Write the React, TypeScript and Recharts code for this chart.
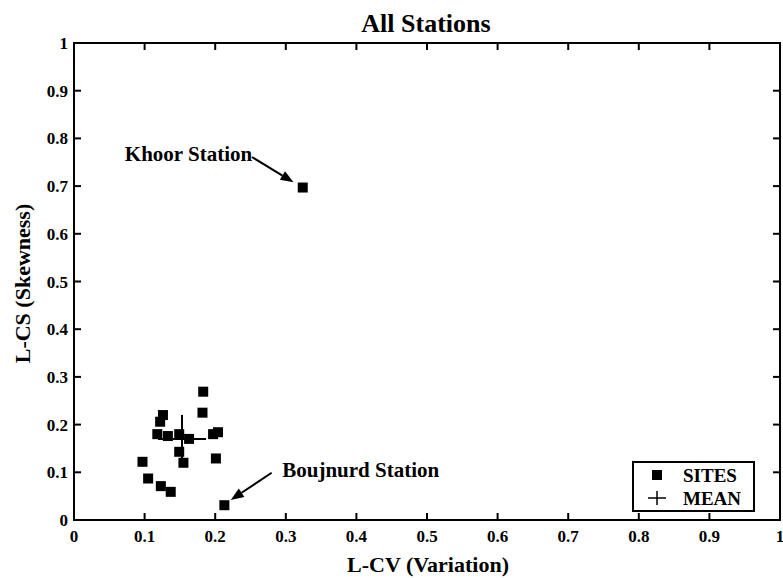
import React from 'react'
import { ScatterChart, Scatter, XAxis, YAxis, Legend } from 'recharts'

const FONT = '"Liberation Serif", "Times New Roman", serif'

// axis ticks (both axes use the same 0..1 scale)
const TICKS = [0, 0.1, 0.2, 0.3, 0.4, 0.5, 0.6, 0.7, 0.8, 0.9, 1]
const TICK_LABELS = ['0', '0.1', '0.2', '0.3', '0.4', '0.5', '0.6', '0.7', '0.8', '0.9', '1']

// station L-moment ratios
const SITE_LCV = [0.183, 0.182, 0.126, 0.122, 0.118, 0.133, 0.149, 0.163, 0.197, 0.204, 0.149, 0.155, 0.201, 0.097, 0.105, 0.123, 0.137, 0.213, 0.324]
const SITE_LCS = [0.269, 0.225, 0.220, 0.206, 0.180, 0.176, 0.180, 0.170, 0.180, 0.184, 0.143, 0.120, 0.129, 0.122, 0.087, 0.071, 0.059, 0.031, 0.697]

// regional mean
const MEAN_LCV = [0.153]
const MEAN_LCS = [0.170]

const sites = SITE_LCV.map((x, i) => ({ x, y: SITE_LCS[i] }))
const mean = MEAN_LCV.map((x, i) => ({ x, y: MEAN_LCS[i] }))

// plot box in pixels (used for the frame and annotations)
const W = 783
const H = 578
const PLOT = { left: 74, top: 43, right: 780, bottom: 520 }
const TICK_LEN = 7
const px = (v: number) => PLOT.left + v * (PLOT.right - PLOT.left)
const py = (v: number) => PLOT.bottom - v * (PLOT.bottom - PLOT.top)

const textStyle = { fontFamily: FONT, fontWeight: 700, fill: '#000' } as const
const tickText = { ...textStyle, fontSize: 17 }
const fmt = (v: number) => TICK_LABELS[TICKS.indexOf(v)] ?? String(v)

const SquareShape = ({ cx, cy }: any) => (
    <rect x={cx - 5} y={cy - 5} width={10} height={10} fill="#000" />
)

const PlusShape = ({ cx, cy }: any) => (
    <g stroke="#000" strokeWidth={2}>
        <line x1={cx - 24} x2={cx + 24} y1={cy} y2={cy} />
        <line x1={cx} x2={cx} y1={cy - 24} y2={cy + 24} />
    </g>
)

function LegendBox() {
    return (
        <div
            style={{
                width: 123,
                height: 51,
                boxSizing: 'border-box',
                border: '2px solid #000',
                background: '#fff',
                position: 'relative',
            }}
        >
            <svg width={119} height={47} style={{ position: 'absolute', left: 0, top: 0 }}>
                <rect x={18} y={7} width={10} height={10} fill="#000" />
                <line x1={14} x2={32} y1={35} y2={35} stroke="#000" strokeWidth={1.5} />
                <line x1={23} x2={23} y1={28} y2={42} stroke="#000" strokeWidth={1.5} />
                <text x={49} y={19} fontSize={19} {...textStyle}>SITES</text>
                <text x={49} y={42} fontSize={19} {...textStyle}>MEAN</text>
            </svg>
        </div>
    )
}

function Arrow({ from, to }: { from: [number, number]; to: [number, number] }) {
    const x1 = px(from[0]), y1 = py(from[1])
    const x2 = px(to[0]), y2 = py(to[1])
    const a = Math.atan2(y2 - y1, x2 - x1)
    const len = 13, half = 5
    const bx = x2 - len * Math.cos(a), by = y2 - len * Math.sin(a)
    const p1 = `${bx + half * Math.sin(a)},${by - half * Math.cos(a)}`
    const p2 = `${bx - half * Math.sin(a)},${by + half * Math.cos(a)}`
    return (
        <g>
            <line x1={x1} y1={y1} x2={bx} y2={by} stroke="#000" strokeWidth={2} />
            <polygon points={`${x2},${y2} ${p1} ${p2}`} fill="#000" />
        </g>
    )
}

// boxed frame with inward ticks on all four sides
function Frame() {
    return (
        <g stroke="#000" strokeWidth={2} fill="none">
            <rect x={PLOT.left} y={PLOT.top} width={PLOT.right - PLOT.left} height={PLOT.bottom - PLOT.top} />
            {TICKS.map((t) => (
                <g key={t}>
                    <line x1={px(t)} x2={px(t)} y1={PLOT.bottom} y2={PLOT.bottom - TICK_LEN} />
                    <line x1={px(t)} x2={px(t)} y1={PLOT.top} y2={PLOT.top + TICK_LEN} />
                    <line x1={PLOT.left} x2={PLOT.left + TICK_LEN} y1={py(t)} y2={py(t)} />
                    <line x1={PLOT.right} x2={PLOT.right - TICK_LEN} y1={py(t)} y2={py(t)} />
                </g>
            ))}
        </g>
    )
}

export default function App() {
    return (
        <div style={{ position: 'relative', width: W, height: H }}>
            <style>{'body{margin:0}'}</style>
            <ScatterChart width={W} height={H} margin={{ top: PLOT.top, right: W - PLOT.right, bottom: 0, left: 0 }}>
                <XAxis
                    type="number"
                    dataKey="x"
                    domain={[0, 1]}
                    ticks={TICKS}
                    interval={0}
                    height={H - PLOT.bottom}
                    tickSize={-TICK_LEN}
                    tickMargin={17}
                    tickLine={false}
                    axisLine={false}
                    tick={tickText}
                    tickFormatter={fmt}
                />
                <YAxis
                    type="number"
                    dataKey="y"
                    domain={[0, 1]}
                    ticks={TICKS}
                    interval={0}
                    width={PLOT.left}
                    tickSize={-TICK_LEN}
                    tickMargin={13}
                    tickLine={false}
                    axisLine={false}
                    tick={tickText}
                    tickFormatter={fmt}
                />
                <Legend
                    layout="vertical"
                    align="center"
                    verticalAlign="middle"
                    content={<LegendBox />}
                    wrapperStyle={{ left: 632, top: 461, width: 123, height: 51 }}
                />
                <Scatter name="MEAN" data={mean} shape={<PlusShape />} isAnimationActive={false} />
                <Scatter name="SITES" data={sites} shape={<SquareShape />} isAnimationActive={false} />
            </ScatterChart>

            {/* frame, title, axis titles and annotations */}
            <svg width={W} height={H} style={{ position: 'absolute', left: 0, top: 0, pointerEvents: 'none' }}>
                <Frame />
                <text x={426} y={32} textAnchor="middle" fontSize={26} {...textStyle}>All Stations</text>
                <text x={428} y={572} textAnchor="middle" fontSize={22} {...textStyle}>L-CV (Variation)</text>
                <text
                    x={0}
                    y={0}
                    transform={`translate(30, ${(PLOT.top + PLOT.bottom) / 2 + 2}) rotate(-90)`}
                    textAnchor="middle"
                    fontSize={22}
                    {...textStyle}
                >
                    L-CS (Skewness)
                </text>
                <text x={px(0.072)} y={py(0.753)} fontSize={21} {...textStyle}>Khoor Station</text>
                <Arrow from={[0.252, 0.761]} to={[0.311, 0.708]} />
                <text x={px(0.295)} y={py(0.090)} fontSize={21} {...textStyle}>Boujnurd Station</text>
                <Arrow from={[0.280, 0.099]} to={[0.222, 0.042]} />
            </svg>
        </div>
    )
}
